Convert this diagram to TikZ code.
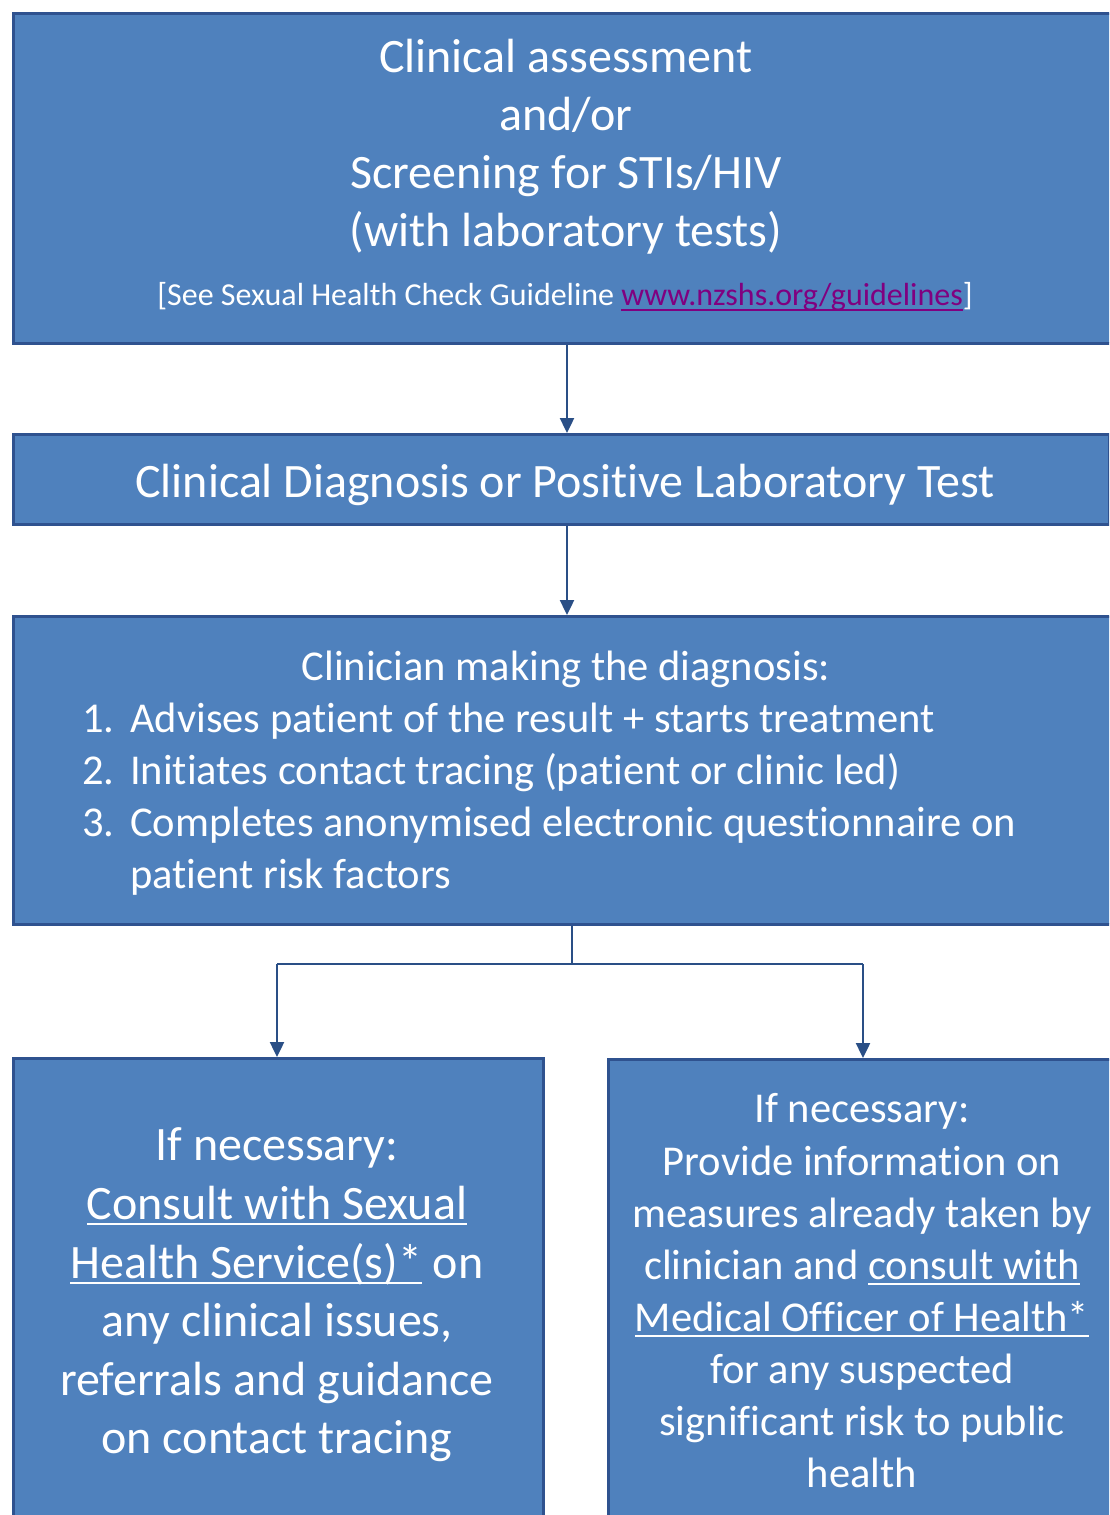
\documentclass[tikz,border=0pt]{standalone}
\usepackage{fontspec}
\setmainfont{Carlito}[Ligatures={NoCommon}]
\usetikzlibrary{arrows.meta,calc}
\definecolor{fillc}{HTML}{4F81BD}
\definecolor{bordc}{HTML}{2F528F}
\definecolor{arrc}{HTML}{2A4F86}
\definecolor{linkc}{HTML}{800080}
\newcommand\ulx[2][white]{\setbox0\hbox{#2}\rlap{\textcolor{#1}{\rule[-6pt]{\wd0}{2.4pt}}}\box0\relax}
\begin{document}
\begin{tikzpicture}[x=1pt,y=-1pt,
  box/.style={draw=bordc, line width=2.6pt, fill=fillc, inner sep=0pt, anchor=north west},
  arr/.style={draw=arrc, line width=2.4pt, -{Triangle[length=15pt,width=14pt]}},
  lnk/.style={draw=arrc, line width=2.4pt},
  big/.style={text=white, inner sep=0pt, anchor=base, font=\fontsize{48}{56}\selectfont},
  mid/.style={text=white, inner sep=0pt, anchor=base, font=\fontsize{42.5}{50}\selectfont},
  sml/.style={text=white, inner sep=0pt, anchor=base, font=\fontsize{32}{38}\selectfont}]
\useasboundingbox (0,0) rectangle (1109,1515);
\clip (0,0) rectangle (1109,1515);
% boxes
\node[box, minimum width=1110pt, minimum height=330pt] (b1) at (12,12) {};
\node[box, minimum width=1096pt, minimum height=90pt] (b2) at (12,433) {};
\node[box, minimum width=1110pt, minimum height=308pt] (b3) at (12,615) {};
\node[box, minimum width=530pt, minimum height=480pt] (b4) at (12,1057) {};
\node[box, minimum width=520pt, minimum height=480pt] (b5) at (607,1058) {};
% connectors
\coordinate (c1) at (567,0);
\coordinate (c2) at (572,964);
\coordinate (cl) at (277,964);
\coordinate (cr) at (863,964);
\draw[arr] (c1 |- b1.south) -- (c1 |- b2.north);
\draw[arr] (c1 |- b2.south) -- (c1 |- b3.north);
\draw[lnk] (c2 |- b3.south) -- (c2);
\draw[lnk] (cl) -- (cr);
\draw[arr] (cl) -- (cl |- b4.north);
\draw[arr] (cr) -- (cr |- b5.north);
% box 1 text
\node[big] (t11) at (566,72) {Clinical assessment};
\node[big] (t12) at (566,130) {and/or};
\node[big] (t13) at (566,188) {Screening for STIs/HIV};
\node[big] (t14) at (566,246) {(with laboratory tests)};
\node[sml] (t15) at (565,305) {[See Sexual Health Check Guideline \textcolor{linkc}{\ulx[linkc]{www.nzshs.org/guidelines}}]};
% box 2 text
\node[big] (t21) at (565,497) {Clinical Diagnosis or Positive Laboratory Test};
% box 3 text
\node[mid] (t31) at (566,680) {Clinician making the diagnosis:};
\node[mid, anchor=base west] (n1) at (82,732) {1.};
\node[mid, anchor=base west] (n2) at (82,784) {2.};
\node[mid, anchor=base west] (n3) at (82,836) {3.};
\node[mid, anchor=base west] (t32) at (130,732) {Advises patient of the result + starts treatment};
\node[mid, anchor=base west] (t33) at (130,784) {Initiates contact tracing (patient or clinic led)};
\node[mid, anchor=base west] (t34) at (130,836) {Completes anonymised electronic questionnaire on};
\node[mid, anchor=base west] (t35) at (130,888) {patient risk factors};
% box 4 text
\node[big] (t41) at (277,1160) {If necessary:};
\node[big] (t42) at (277,1219) {\ulx{Consult with Sexual}};
\node[big] (t43) at (277,1278) {\ulx{Health Service(s)*} on};
\node[big] (t44) at (277,1336) {any clinical issues,};
\node[big] (t45) at (277,1395) {referrals and guidance};
\node[big] (t46) at (277,1453) {on contact tracing};
% box 5 text
\node[mid] (t51) at (862,1122) {If necessary:};
\node[mid] (t52) at (862,1175) {Provide information on};
\node[mid] (t53) at (862,1227) {measures already taken by};
\node[mid] (t54) at (862,1279) {clinician and \ulx{consult with}};
\node[mid] (t55) at (862,1331) {\ulx{Medical Officer of Health*}};
\node[mid] (t56) at (862,1383) {for any suspected};
\node[mid] (t57) at (862,1435) {significant risk to public};
\node[mid] (t58) at (862,1487) {health};
\end{tikzpicture}
\end{document}
